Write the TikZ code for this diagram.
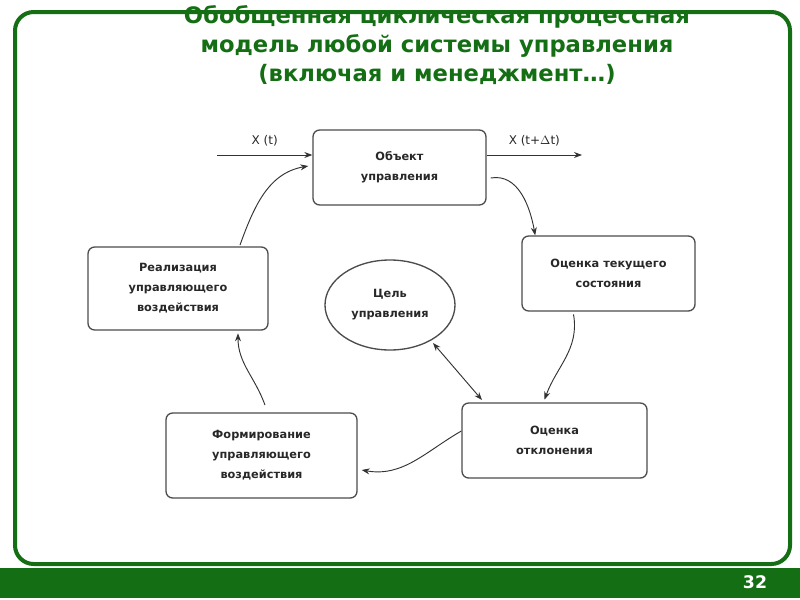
\documentclass[tikz,border=0pt]{standalone}
\usepackage{fontspec}
\setmainfont{DejaVu Sans}
\usetikzlibrary{arrows.meta,shapes.geometric}
\definecolor{dg}{RGB}{20,110,20}
\definecolor{tx}{RGB}{40,40,40}
\tikzset{
 box/.style={draw=black!70,rounded corners=5pt,line width=1pt,align=center,font=\bfseries\fontsize{8.5}{15}\selectfont,text=tx,inner sep=0pt},
 arr/.style={-{Stealth[length=6pt]},line width=0.7pt,black!80},
 lbl/.style={font=\fontsize{9}{11}\selectfont,text=tx}
}
\begin{document}
\begin{tikzpicture}[x=0.75pt,y=-0.75pt]
\useasboundingbox (0,0) rectangle (800,600);
\fill[white] (0,0) rectangle (800,600);
\draw[dg,line width=3pt,rounded corners=14pt] (15,12) rectangle (790,564);
\fill[dg] (0,568) rectangle (800,598);
\node[white,font=\bfseries\fontsize{13}{13}\selectfont] (pg) at (755,582) {32};
\node[dg,font=\bfseries\fontsize{17}{22}\selectfont,align=center] (title) at (437,45) {Обобщенная циклическая процессная\\модель любой системы управления\\(включая и менеджмент…)};
\node[box,minimum width=173*0.75pt,minimum height=75*0.75pt] (obj) at (399.5,167.5) {Объект\\управления};
\node[box,minimum width=173*0.75pt,minimum height=75*0.75pt] (cur) at (608.5,273.5) {Оценка текущего\\состояния};
\node[box,minimum width=180*0.75pt,minimum height=83*0.75pt] (real) at (178,288.5) {Реализация\\управляющего\\воздействия};
\node[draw=black!70,line width=1pt,ellipse,minimum width=130*0.75pt,minimum height=90*0.75pt,align=center,font=\bfseries\fontsize{8.5}{15}\selectfont,text=tx,inner sep=0pt] (goal) at (390,305) {Цель\\управления};
\node[box,minimum width=185*0.75pt,minimum height=75*0.75pt] (dev) at (554.5,440.5) {Оценка\\отклонения};
\node[box,minimum width=191*0.75pt,minimum height=85*0.75pt] (form) at (261.5,455.5) {Формирование\\управляющего\\воздействия};
\coordinate (in) at (217,155);
\coordinate (out) at (582,155);
\draw[arr] (in) -- (obj.west|-in) node[lbl,midway,above=3pt] (lx) {X (t)};
\draw[arr] (obj.east|-out) -- (out) node[lbl,midway,above=3pt] (ly) {X (t+$\Delta$t)};
\draw[arr] ([xshift=3pt]obj.east|-0,178) to[out=10,in=100] ([xshift=-55pt]cur.north);
\draw[arr] ([xshift=-35*0.75pt,yshift=-2pt]cur.south) to[out=-80,in=70] ([xshift=-10*0.75pt,yshift=2pt]dev.north);
\draw[arr] ([yshift=3pt]dev.west|-0,435) to[out=-150,in=-10] ([xshift=3pt]form.east|-0,470);
\draw[arr] (265,405) to[out=110,in=-90] ([xshift=60*0.75pt,yshift=-2pt]real.south);
\draw[arr] (240,245) to[out=70,in=190] ([xshift=-3pt]obj.west|-0,166);
\draw[{Stealth[length=6pt]}-{Stealth[length=6pt]},line width=0.7pt,black!80] (433,343) -- (482,400);
\end{tikzpicture}
\end{document}
